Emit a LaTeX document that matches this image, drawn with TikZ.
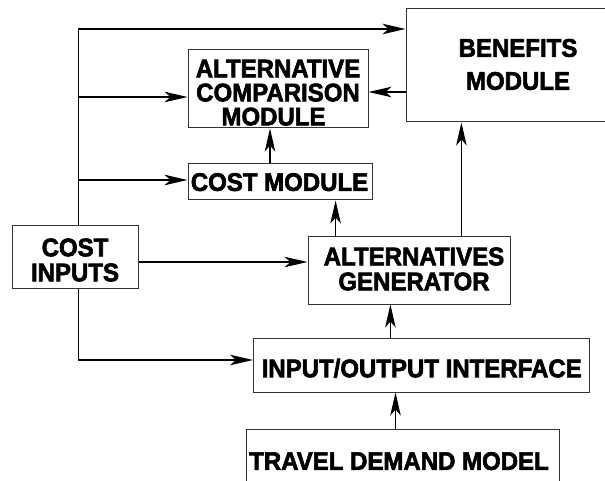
\documentclass[tikz,border=0pt]{standalone}
\usepackage{graphicx}
\usepackage{fontspec}
\setmainfont[BoldFeatures={FakeBold=2.5}]{Liberation Sans}
\usetikzlibrary{arrows.meta}
\newcommand{\vst}[1]{\scalebox{1}[1.06]{#1}}
\begin{document}
\begin{tikzpicture}[x=1pt,y=-1pt,
  box/.style={draw=black!80, line width=1pt, inner sep=0pt, rectangle},
  lbl/.style={font=\bfseries\fontsize{24}{25}\selectfont, inner sep=0pt, text depth=0pt},
  lbltwo/.style={font=\bfseries\fontsize{24}{25}\selectfont, inner sep=0pt, align=center},
  conn/.style={line width=1.1pt, -{Stealth[length=23pt,width=10.5pt,inset=6pt]}},
]
\useasboundingbox (0,0) rectangle (605,481);
% boxes
\node[box, minimum width=219pt, minimum height=113pt] (ben) at (515.5,65.5) {};
\node[box, minimum width=180pt, minimum height=78pt] (acm) at (278,89) {};
\node[box, minimum width=184pt, minimum height=36pt] (cm) at (280,182) {};
\node[box, minimum width=125.3pt, minimum height=62pt] (ci) at (75.35,257) {};
\node[box, minimum width=202pt, minimum height=67pt] (ag) at (409,270.5) {};
\node[box, minimum width=336pt, minimum height=54pt] (io) at (421.5,365) {};
\node[box, minimum width=313pt, minimum height=66pt] (tdm) at (402.5,462) {};
% texts
\node[lbltwo, font=\bfseries\fontsize{24}{33}\selectfont] (benT) at (518,64.5) {\vst{BENEFITS}\\\vst{MODULE}};
\node[lbltwo, font=\bfseries\fontsize{24}{24}\selectfont] (acmT) at (278,92.7) {\vst{ALTERNATIVE}\\\vst{COMPARISON}\\\vst{MODULE}\hspace*{9pt}};
\node[lbl] (cmT) at (279.5,182) {\vst{COST MODULE}};
\node[lbltwo] (ciT) at (75,260) {\vst{COST}\\\vst{INPUTS}};
\node[lbltwo] (agT) at (414,269) {\vst{ALTERNATIVES}\\\vst{GENERATOR}};
\node[lbl] (ioT) at (421.7,368) {\vst{INPUT/OUTPUT INTERFACE}};
\node[lbl] (tdmT) at (399,461) {\vst{TRAVEL DEMAND MODEL}};
% helper coordinates
\coordinate (top) at (78.7,29);
\coordinate (jA) at (78.7,97);
\coordinate (jC) at (78.7,180);
\coordinate (jM) at (0,262);
\coordinate (jB) at (78.7,360);
\coordinate (xCA) at (270,0);
\coordinate (xGC) at (335.6,0);
\coordinate (xGB) at (461.4,0);
\coordinate (yBA) at (0,92);
\coordinate (xIG) at (390.4,0);
\coordinate (xTI) at (395.5,0);
% connectors
\draw[conn] (ci.north -| top) -- (top) -- (top -| ben.west);
\draw[conn] (jA) -- (jA -| acm.west);
\draw[conn] (jC) -- (jC -| cm.west);
\draw[conn] (ci.east |- jM) -- (ag.west |- jM);
\draw[conn] (ci.south -| jB) -- (jB) -- (jB -| io.west);
\draw[conn] (cm.north -| xCA) -- (acm.south -| xCA);
\draw[conn] (ag.north -| xGC) -- (cm.south -| xGC);
\draw[conn] (ag.north -| xGB) -- (ben.south -| xGB);
\draw[conn] (ben.west |- yBA) -- (acm.east |- yBA);
\draw[conn] (io.north -| xIG) -- (ag.south -| xIG);
\draw[conn] (tdm.north -| xTI) -- (io.south -| xTI);
\end{tikzpicture}
\end{document}
